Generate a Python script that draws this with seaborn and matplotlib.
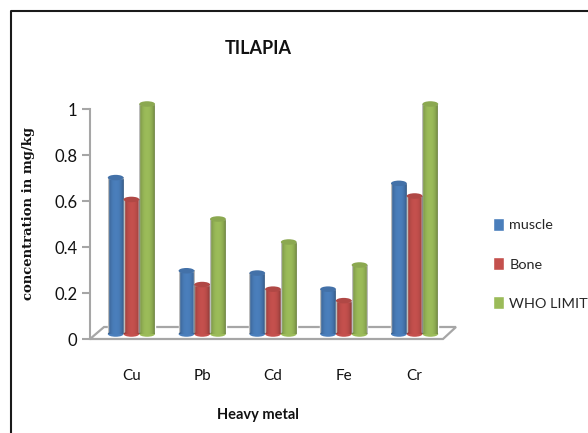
import numpy as np
import pandas as pd
import matplotlib.pyplot as plt
from matplotlib.lines import Line2D
from matplotlib.patches import Ellipse, Polygon
import seaborn as sns

metals = ['Cu', 'Pb', 'Cd', 'Fe', 'Cr']
muscle = [0.68, 0.275, 0.265, 0.195, 0.655]
bone = [0.585, 0.215, 0.195, 0.145, 0.60]
who_limit = [1.0, 0.50, 0.40, 0.30, 1.0]
series_names = ['muscle', 'Bone', 'WHO LIMIT']
colors = ['#4a7ebb', '#c4504d', '#9bbb59']
y_ticks = [0, 0.2, 0.4, 0.6, 0.8, 1]
y_tick_labels = ['0', '0.2', '0.4', '0.6', '0.8', '1']

W, H = 588, 433


def rect(x0, y_top, x1, y_bottom):
    # pixel box of the reference -> figure fractions
    return [x0 / W, 1 - y_bottom / H, (x1 - x0) / W, (y_bottom - y_top) / H]


df = pd.DataFrame({
    'metal': metals * 3,
    'series': np.repeat(series_names, len(metals)),
    'value': muscle + bone + who_limit,
})

sns.set_theme(style='white')
plt.rcParams['font.family'] = ['Lato', 'DejaVu Sans']

fig = plt.figure(figsize=(W / 100, H / 100), dpi=100)

# the back axes holds the value scale, the front one the raised 3D-looking bars
back = fig.add_axes(rect(90, 109, 440, 339))
back.set_ylim(0, 1)
back.set_xticks([])
back.set_yticks(y_ticks)
back.set_yticklabels(y_tick_labels, fontsize=12, color='#111111')
back.tick_params(axis='y', left=True, length=6, width=1.5, color='#a6a6a6', pad=3)
sns.despine(ax=back, top=True, right=True, bottom=True)
back.spines['left'].set_color('#a6a6a6')
back.spines['left'].set_linewidth(1.5)

floor = [(90, 339), (104, 327), (456, 327), (443, 339)]
fig.add_artist(Polygon([(x / W, 1 - y / H) for x, y in floor], closed=True,
                       facecolor='white', edgecolor='#a6a6a6', linewidth=1.6,
                       transform=fig.transFigure, zorder=1))

ax = fig.add_axes(rect(96, 104, 450, 334), zorder=3)
ax.patch.set_alpha(0)
sns.barplot(data=df, x='metal', y='value', hue='series', order=metals,
            hue_order=series_names, palette=colors, saturation=1, width=0.667,
            gap=0, ax=ax)

# rounded look for every bar: side shading plus caps
shade = np.zeros((1, 64, 4))
pos = np.linspace(-1, 1, 64)
shade[0, :, 3] = np.clip(0.3 * np.abs(pos) ** 2.5, 0, 1)
for bar in list(ax.patches):
    x0, w, h = bar.get_x(), bar.get_width(), bar.get_height()
    fc = bar.get_facecolor()
    ax.add_patch(Ellipse((x0 + w / 2, 0), w, 0.024, facecolor=fc, edgecolor='none',
                         zorder=2, clip_on=False))
    ax.imshow(shade, extent=[x0, x0 + w, 0, h], aspect='auto', zorder=3, clip_on=False)
    ax.add_patch(Ellipse((x0 + w / 2, h), w, 0.024, zorder=4, clip_on=False,
                         facecolor=tuple(c * 0.9 for c in fc[:3]), edgecolor='none'))
ax.set_xlim(-0.5, 4.5)
ax.set_ylim(0, 1)

ax.set_xlabel('')
ax.set_ylabel('')
ax.set_yticks([])
ax.tick_params(axis='x', bottom=False, labelsize=11, labelcolor='#111111', pad=19)
sns.despine(ax=ax, left=True, bottom=True)

sns.move_legend(ax, 'upper left', bbox_to_anchor=((493 - 96) / 354, (334 - 218) / 230),
                title=None, frameon=False, fontsize=10.4, handlelength=0.78,
                handleheight=1.0, handletextpad=0.35, labelspacing=1.78,
                borderpad=0, borderaxespad=0)

fig.text(258 / W, 1 - 48 / H, 'TILAPIA', fontsize=13, fontweight='bold',
         color='#111111', ha='center', va='center')
fig.text(258 / W, 1 - 415 / H, 'Heavy metal', fontsize=10.5, fontweight='bold',
         color='#111111', ha='center', va='center')
fig.text(29 / W, 1 - 213 / H, 'concentration in mg/kg', fontsize=9.5, fontweight='bold',
         family='DejaVu Serif', color='#111111', rotation=90, ha='center', va='center')

# chart border, runs off the right and bottom of the picture
fig.add_artist(Line2D([11 / W, 11 / W, 1], [0, 1 - 10.5 / H, 1 - 10.5 / H], color='#1a1a1a',
                      linewidth=1.5, transform=fig.transFigure))

fig.savefig('out.png', dpi=100)
